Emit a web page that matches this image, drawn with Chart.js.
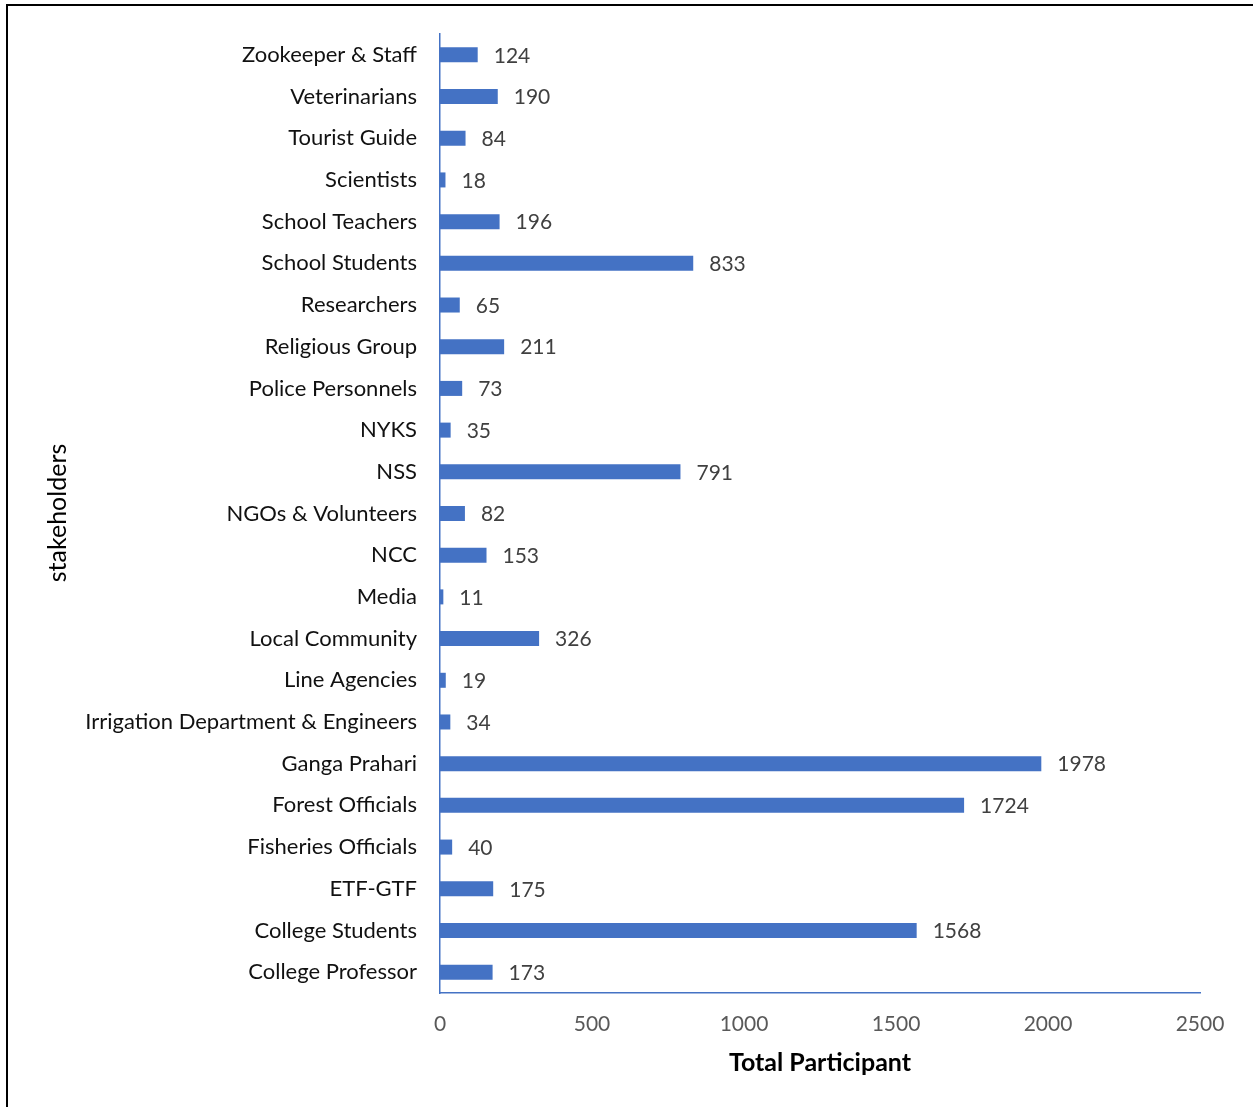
<!DOCTYPE html>
<html><head><meta charset="utf-8">
<script src="https://cdn.jsdelivr.net/npm/chart.js@4.4.1/dist/chart.umd.min.js"></script>
<style>
html,body{margin:0;padding:0;background:#fff;}
#wrap{position:relative;width:1253px;height:1107px;overflow:hidden;}
#frame{position:absolute;left:6px;top:4px;width:1260px;height:1120px;border:2px solid #000;box-sizing:border-box;pointer-events:none;}
canvas{position:absolute;left:0;top:0;}
</style></head>
<body><div id="wrap"><canvas id="c" width="1253" height="1107"></canvas><div id="frame"></div></div>
<script>
const categories = ["Zookeeper & Staff","Veterinarians","Tourist Guide","Scientists","School Teachers","School Students","Researchers","Religious Group","Police Personnels","NYKS","NSS","NGOs & Volunteers","NCC","Media","Local Community","Line Agencies","Irrigation Department & Engineers","Ganga Prahari","Forest Officials","Fisheries Officials","ETF-GTF","College Students","College Professor"];
const participants = [124,190,84,18,196,833,65,211,73,35,791,82,153,11,326,19,34,1978,1724,40,175,1568,173];
const xTicks = [0,500,1000,1500,2000,2500];
const xTitle = "Total Participant";
const yTitle = "stakeholders";

const FONT = "Lato";
const labelsPlugin = {
  id:'labels',
  afterDatasetsDraw(chart){
    const ctx = chart.ctx;
    const meta = chart.getDatasetMeta(0);
    ctx.save();
    ctx.font = `21px ${FONT}`;
    ctx.fillStyle = '#404040';
    ctx.textBaseline = 'middle';
    ctx.textAlign = 'left';
    meta.data.forEach((bar,i)=>{
      ctx.fillText(String(participants[i]), bar.x + 16, bar.y + 1);
    });
    ctx.restore();
  },
  afterDraw(chart){
    const ctx = chart.ctx;
    ctx.save();
    ctx.fillStyle = '#000';
    ctx.font = `bold 25px ${FONT}`;
    ctx.textAlign = 'center';
    ctx.textBaseline = 'middle';
    ctx.fillText(xTitle, 820, 1063);
    ctx.translate(58, 513);
    ctx.rotate(-Math.PI/2);
    ctx.font = `25px ${FONT}`;
    ctx.fillText(yTitle, 0, 0);
    ctx.restore();
  }
};

new Chart(document.getElementById('c'), {
  type:'bar',
  data:{labels:categories, datasets:[{data:participants, backgroundColor:'#4472C4', borderWidth:0, barPercentage:0.72, categoryPercentage:0.5}]},
  options:{
    indexAxis:'y',
    responsive:false,
    animation:false,
    devicePixelRatio:1,
    layout:{padding:{left:0,top:34,right:53,bottom:0}},
    plugins:{legend:{display:false},tooltip:{enabled:false}},
    scales:{
      x:{
        min:0,max:2500,
        afterBuildTicks(s){ s.ticks = xTicks.map(v=>({value:v})); },
        afterFit(s){ s.height = 114; },
        grid:{display:false},
        border:{display:true,color:'#4472C4',width:1.5},
        ticks:{color:'#595959',font:{family:FONT,size:21},padding:11,callback:(v)=>String(v)}
      },
      y:{
        afterFit(s){ s.width = 440; },
        grid:{display:false},
        border:{display:true,color:'#4472C4',width:1.5},
        ticks:{color:'#111',font:{family:FONT,size:22},padding:15,autoSkip:false}
      }
    }
  },
  plugins:[labelsPlugin]
});
</script></body></html>
